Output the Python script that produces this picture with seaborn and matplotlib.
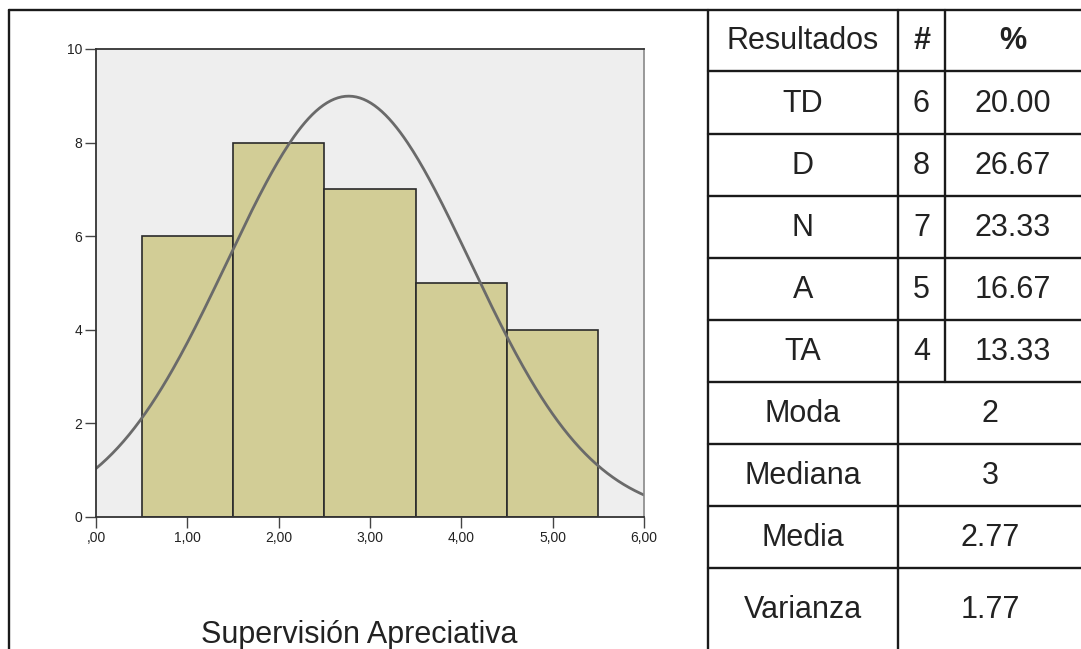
import numpy as np
import pandas as pd
import seaborn as sns
import matplotlib.pyplot as plt

# data
categories = ['TD', 'D', 'N', 'A', 'TA']
scores = [1, 2, 3, 4, 5]
counts = [6, 8, 7, 5, 4]
stat_labels = ['Moda', 'Mediana', 'Media', 'Varianza']
stat_values = ['2', '3', '2.77', '1.77']
x_ticks = [0, 1, 2, 3, 4, 5, 6]
y_ticks = [0, 2, 4, 6, 8, 10]
title = 'Supervisión Apreciativa'

sns.set_style('white')
plt.rcParams['font.family'] = ['Liberation Sans', 'DejaVu Sans']

df = pd.DataFrame({'score': scores, 'count': counts})
n = df['count'].sum()
percents = ['%.2f' % (c / n * 100) for c in counts]
mean = (df.score * df['count']).sum() / n
var = (df['count'] * (df.score - mean) ** 2).sum() / (n - 1)
sd = np.sqrt(var)

fig = plt.figure(figsize=(10.81, 6.49), dpi=100)

# overlay in pixel coords for the borders and the table
bg = fig.add_axes([0, 0, 1, 1])
bg.set_xlim(0, 1081)
bg.set_ylim(649, 0)
bg.axis('off')
bg.set_zorder(0)

lc = '#1a1a1a'
lw = 1.7
bg.plot([9, 9], [10, 649], color=lc, lw=lw)
bg.plot([9, 1081], [10, 10], color=lc, lw=lw)
bg.plot([708, 708], [10, 649], color=lc, lw=lw)
bg.plot([898, 898], [10, 649], color=lc, lw=lw)
bg.plot([945, 945], [10, 382], color=lc, lw=lw)
row_lines = [71, 134, 196, 258, 320, 382, 444, 506, 568]
for y in row_lines:
    bg.plot([708, 1081], [y, y], color=lc, lw=lw)

fs = 22
tc = '#222222'
c1, c2, c3, c23 = 803, 921.5, 1013, 990
bg.text(c1, 41, 'Resultados', fontsize=fs, ha='center', va='center', color=tc)
bg.text(c2, 41, '#', fontsize=fs, ha='center', va='center', color=tc, fontweight='bold')
bg.text(c3, 41, '%', fontsize=fs, ha='center', va='center', color=tc, fontweight='bold')
tops = [71] + row_lines[1:] + [649]
for i in range(len(categories)):
    yc = (tops[i] + tops[i + 1]) / 2 + 1.5
    bg.text(c1, yc, categories[i], fontsize=fs, ha='center', va='center', color=tc)
    bg.text(c2, yc, str(counts[i]), fontsize=fs, ha='center', va='center', color=tc)
    bg.text(c3, yc, percents[i], fontsize=fs, ha='center', va='center', color=tc)
for j in range(len(stat_labels)):
    i = j + len(categories)
    yc = (tops[i] + tops[i + 1]) / 2 + 1.5
    bg.text(c1, yc, stat_labels[j], fontsize=fs, ha='center', va='center', color=tc)
    bg.text(c23, yc, stat_values[j], fontsize=fs, ha='center', va='center', color=tc)

bg.text(359, 643, title, fontsize=fs, ha='center', va='baseline', color=tc)

# histogram with normal curve
ax = fig.add_axes([96 / 1081, 1 - 517 / 649, 548 / 1081, 468 / 649])
ax.set_zorder(1)
ax.set_facecolor('#eeeeee')
sns.histplot(data=df, x='score', weights='count', discrete=True, ax=ax,
             color='#d2cd96', alpha=1, edgecolor='#2a2a2a', linewidth=1.2)
xs = np.linspace(0, 6, 300)
ys = n * np.exp(-(xs - mean) ** 2 / (2 * var)) / (sd * np.sqrt(2 * np.pi))
sns.lineplot(x=xs, y=ys, ax=ax, color='#6a6a6a', lw=2)

ax.set_xlim(0, 6)
ax.set_ylim(0, 10)
ax.set_xticks(x_ticks)
ax.set_xticklabels([',00' if v == 0 else ('%.2f' % v).replace('.', ',') for v in x_ticks])
ax.set_yticks(y_ticks)
ax.set_yticklabels([str(v) for v in y_ticks])
ax.set_xlabel('')
ax.set_ylabel('')
ax.tick_params(direction='out', length=8, width=1, color='#444444', labelsize=10, labelcolor='#222222', pad=2,
               bottom=True, left=True)
for s in ['left', 'bottom', 'top']:
    ax.spines[s].set_color('#333333')
    ax.spines[s].set_linewidth(1.3)
ax.spines['right'].set_color('#888888')
ax.spines['right'].set_linewidth(1.2)

fig.savefig('out.png', dpi=100)
